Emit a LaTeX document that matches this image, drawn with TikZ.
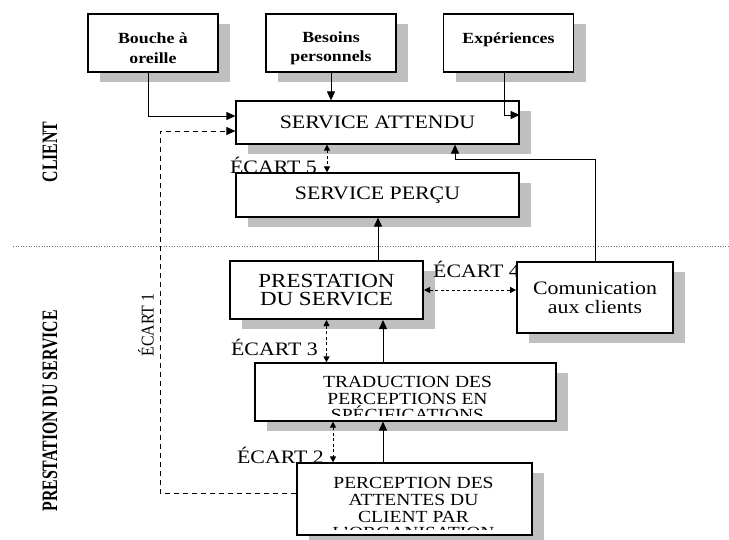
\documentclass[tikz,border=0pt]{standalone}
\usepackage{fontspec}
\setmainfont{Liberation Serif}[FakeStretch=1.15]
\newfontfamily\sidefont{Liberation Serif}[FakeStretch=0.72]
\newfontfamily\gapfont{Liberation Serif}[FakeStretch=0.88]
\usetikzlibrary{arrows.meta,shadows}
\newcommand\srcgap{\rule{0pt}{21pt}}

\tikzset{
  box/.style={draw, fill=white, line width=1.2pt, inner sep=0pt, align=center,
    drop shadow={shadow xshift=12pt, shadow yshift=-10pt, fill=black!25, opacity=1}},
  src/.style={box, minimum width=130pt, minimum height=58pt,
    font=\bfseries\fontsize{15.5}{19.5}\selectfont},
  wide/.style={box, minimum width=283pt, font=\fontsize{19}{20}\selectfont},
  flow/.style={line width=1pt, -{Triangle[length=9pt,width=8pt]}},
  gap/.style={line width=1pt, dash pattern=on 3pt off 2.5pt,
    {Triangle[length=6pt,width=6pt]}-{Triangle[length=6pt,width=6pt]}},
  gaptext/.style={inner sep=0pt, font=\fontsize{19}{20}\selectfont},
  side/.style={rotate=90, inner sep=0pt, font=\sidefont\bfseries\fontsize{22}{24}\selectfont},
}

\begin{document}
\begin{tikzpicture}[x=1pt,y=-1pt]
	\useasboundingbox (0,0) rectangle (729,539);
	% Séparation client / prestataire
	\draw[black!55, line width=0.6pt, dotted] (13,246) -- (729,246);
	\node[side] (client) at (50,152) {CLIENT};
	\node[side] (presta) at (50,411) {PRESTATION DU SERVICE};
	% Les trois sources
	\node[src] (bouche) at (153,43) {\srcgap Bouche à\\oreille};
	\node[src] (besoins) at (331,43) {\srcgap Besoins\\personnels};
	\node[src] (exper) at (508.5,43) {\srcgap Expériences\\\mbox{}};
	% Côté client
	\node[wide, minimum height=43pt] (sa) at (377.5,122.5) {SERVICE ATTENDU};
	\node[wide, minimum height=44pt] (sp) at (377.5,195) {SERVICE PERÇU};
	% Côté prestataire
	\node[box, line width=2pt, minimum width=193pt, minimum height=58pt,
		font=\fontsize{20}{17.5}\selectfont] (ps) at (326.5,290) {PRESTATION\\DU SERVICE};
	\node[gaptext, anchor=west] (e4) at (433,269) {ÉCART 4};
	\node[box, line width=1.8pt, minimum width=156pt, minimum height=71pt,
		font=\fontsize{19}{19}\selectfont] (comm) at (595,297.5) {Comunication\\aux clients};
	\node[box, minimum width=301pt, minimum height=58pt] (trad) at (405.5,392) {};
	\node[box, minimum width=235pt, minimum height=72pt] (perc) at (414.5,499) {};
	% Textes coupés par le cadre
	\begin{scope}
		\clip ([shift={(1pt,6.5pt)}]trad.south west) rectangle (trad.north east);
		\node[anchor=north, inner sep=0pt, align=center, font=\fontsize{17}{16.5}\selectfont]
			(tradtxt) at ([xshift=2pt,yshift=-14pt]trad.north) {TRADUCTION DES\\PERCEPTIONS EN\\SPÉCIFICATIONS};
	\end{scope}
	\begin{scope}
		\clip ([shift={(1pt,6pt)}]perc.south west) rectangle (perc.north east);
		\node[anchor=north, inner sep=0pt, align=center, font=\fontsize{17}{16.7}\selectfont]
			(perctxt) at ([xshift=-1pt,yshift=-15pt]perc.north) {PERCEPTION DES\\ATTENTES DU\\CLIENT PAR\\L'ORGANISATION};
	\end{scope}
	% Flèches vers le service attendu
	\draw[flow] ([xshift=-5pt]bouche.south) |- ([yshift=6.5pt]sa.west);
	\draw[flow] (besoins.south) -- (besoins.south |- sa.north);
	\draw[flow] ([xshift=-4.5pt]exper.south) |- ([yshift=7.5pt]sa.east);
	\draw[flow] (comm.north) |- ([xshift=77.5pt,yshift=-15pt]sa.south) -- ([xshift=77.5pt]sa.south);
	% Écart 1
	\coordinate (e1) at (160,325);
	\draw[line width=1pt, dash pattern=on 5pt off 4pt, -{Triangle[length=9pt,width=8pt]}]
		([yshift=6pt]perc.west) -| (e1) |- ([yshift=-8.5pt]sa.west);
	\node[rotate=90, inner sep=0pt, font=\gapfont\fontsize{18}{20}\selectfont] (e1lbl) at (146,325) {ÉCART 1};
	% Écart 5 et service perçu
	\coordinate (e5top) at ([xshift=-50.5pt]sa.south);
	\draw[gap] (e5top) -- (e5top |- sp.north);
	\node[gaptext, anchor=east] (e5) at (317,165) {ÉCART 5};
	\coordinate (psup) at ([xshift=51.5pt]ps.north);
	\draw[flow] (psup) -- (psup |- sp.south);
	% Écart 4
	\draw[gap] (ps.east) -- (ps.east -| comm.west);
	% Écart 3 et traduction
	\draw[gap] (ps.south) -- (ps.south |- trad.north);
	\node[gaptext, anchor=east] (e3) at (318,347) {ÉCART 3};
	\coordinate (tradup) at ([xshift=-22.5pt]trad.north);
	\draw[flow] (tradup) -- (tradup |- ps.south);
	% Écart 2 et perception
	\coordinate (e2top) at ([xshift=-72.5pt]trad.south);
	\draw[gap] (e2top) -- (e2top |- perc.north);
	\node[gaptext, anchor=east] (e2) at (324,455) {ÉCART 2};
	\coordinate (percup) at ([xshift=-31.5pt]perc.north);
	\draw[flow] (percup) -- (percup |- trad.south);
\end{tikzpicture}
\end{document}
